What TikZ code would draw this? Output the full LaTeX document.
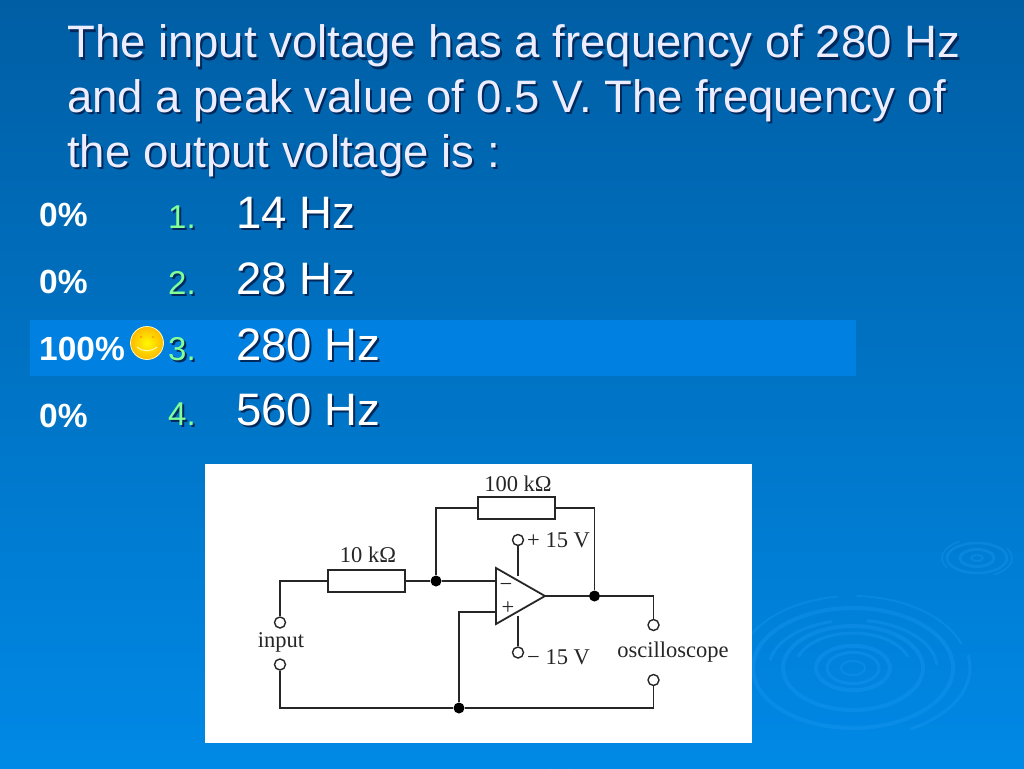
\documentclass[tikz,border=0pt]{standalone}
\usepackage{fontspec}
\setmainfont{Liberation Sans}
\newfontfamily\circuitfont{Liberation Serif}
\usetikzlibrary{calc,shapes.geometric}
\definecolor{slidetop}{RGB}{0,94,164}
\definecolor{slidemid}{RGB}{0,112,190}
\definecolor{slidelow}{RGB}{0,137,230}
\definecolor{rowblue}{RGB}{0,128,224}
\definecolor{rippleblue}{RGB}{30,155,245}
\definecolor{numgreen}{RGB}{130,255,150}
\definecolor{shadowblue}{RGB}{0,40,90}
\newcommand{\shtext}[1]{\leavevmode\rlap{\kern2pt\raisebox{-2pt}{\color{shadowblue}#1}}#1}
\tikzstyle{title}=[anchor=base west,inner sep=0pt,text=white!93!blue,font=\fontsize{45.5}{54}\selectfont]
\tikzstyle{answer}=[anchor=base west,inner sep=0pt,text=white,font=\fontsize{45.5}{50}\selectfont]
\tikzstyle{number}=[anchor=base west,inner sep=0pt,text=numgreen,font=\fontsize{33}{36}\selectfont]
\tikzstyle{percent}=[anchor=base west,inner sep=0pt,text=white,font=\fontsize{33.5}{36}\selectfont\bfseries]
\tikzstyle{wire}=[line width=1.7pt,black!85]
\tikzstyle{resistor}=[rectangle,draw=black!85,line width=2pt,fill=white,minimum width=77pt,minimum height=22pt,inner sep=0pt]
\tikzstyle{terminal}=[circle,draw=black!85,line width=1.4pt,fill=white,minimum size=11pt,inner sep=0pt]
\tikzstyle{junction}=[circle,fill=black,minimum size=11pt,inner sep=0pt]
\tikzstyle{label}=[anchor=base,inner sep=0pt,text=black!85,font=\circuitfont\fontsize{22.5}{24}\selectfont]
\tikzstyle{ripple}=[rippleblue,opacity=0.32,line cap=round]
\begin{document}
\begin{tikzpicture}[x=1pt,y=-1pt]
    \useasboundingbox (0,0) rectangle (1024,768);
    % background
    \shade[top color=slidetop,middle color=slidemid,bottom color=slidelow,shading angle=0] (0,0) rectangle (1024,768);
    % ripples, small one
    \foreach \r/\w in {6/2,17/3,30/2.5}
        \draw[ripple,line width=\w pt] (977,558) ellipse ({\r} and {\r*0.5});
    \draw[ripple,line width=1.5pt] (977,558) ++(-30:35 and 19) arc[start angle=-30,end angle=60,x radius=35,y radius=19];
    \draw[ripple,line width=1.5pt] (977,558) ++(150:35 and 19) arc[start angle=150,end angle=240,x radius=35,y radius=19];
    % ripples, big one
    \foreach \r/\w in {12/2,26/3,37/4,70/4,100/4}
        \draw[ripple,line width=\w pt] (853,668) ellipse ({\r} and {\r*0.6});
    \draw[ripple,line width=3pt] (853,668) ++(200:58 and 35) arc[start angle=200,end angle=340,x radius=58,y radius=35];
    \draw[ripple,line width=3pt] (853,668) ++(190:84 and 48) arc[start angle=190,end angle=255,x radius=84,y radius=48];
    \draw[ripple,line width=3pt] (853,668) ++(280:84 and 48) arc[start angle=280,end angle=355,x radius=84,y radius=48];
    \draw[ripple,line width=2pt] (853,668) ++(185:115 and 72) arc[start angle=185,end angle=262,x radius=115,y radius=72];
    \draw[ripple,line width=2pt] (853,668) ++(272:115 and 72) arc[start angle=272,end angle=340,x radius=115,y radius=72];
    \draw[ripple,line width=3pt] (853,668) ++(-10:117 and 70) arc[start angle=-10,end angle=60,x radius=117,y radius=70];
    \draw[ripple,line width=2pt] (570,768) arc[start angle=0,end angle=50,x radius=30,y radius=25];
    \draw[ripple,line width=2pt] (550,768) arc[start angle=0,end angle=50,x radius=24,y radius=20];
    % question
    \node[title] (line1) at (67,58) {\shtext{The input voltage has a frequency of 280 Hz}};
    \node[title] (line2) at (67,112) {\shtext{and a peak value of 0.5 V. The frequency of}};
    \node[title] (line3) at (67,167) {\shtext{the output voltage is :}};
    % answers
    \node[fill=rowblue,minimum width=826pt,minimum height=56pt,inner sep=0pt] (row) at (443,348) {};
    \node[percent] (p1) at (39,226) {0\%};
    \node[percent] (p2) at (39,293) {0\%};
    \node[percent] (p3) at (39,360) {100\%};
    \node[percent] (p4) at (39,427) {0\%};
    \node[number] (n1) at (168,228) {\shtext{1.}};
    \node[number] (n2) at (168,294) {\shtext{2.}};
    \node[number] (n3) at (168,360) {\shtext{3.}};
    \node[number] (n4) at (168,425) {\shtext{4.}};
    \node[answer] (a1) at (236,228) {\shtext{14 Hz}};
    \node[answer] (a2) at (236,294) {\shtext{28 Hz}};
    \node[answer] (a3) at (236,360) {\shtext{280 Hz}};
    \node[answer] (a4) at (236,425) {\shtext{560 Hz}};
    % smiley
    \node[circle,draw=white!70!yellow,line width=0.8pt,inner color=yellow!95!orange,outer color=yellow!45!orange,minimum size=33pt,inner sep=0pt] (smiley) at (147,343) {};
    \fill[orange!70!yellow] ($(smiley)+(-6,-6)$) circle (1.3) ($(smiley)+(6,-6)$) circle (1.3);
    \draw[white!70!yellow,line width=1pt] ($(smiley)+(-10,4)$) .. controls ($(smiley)+(-4,9)$) and ($(smiley)+(4,9)$) .. ($(smiley)+(10,4)$);
    % circuit
    \node[fill=white,minimum width=547pt,minimum height=279pt,inner sep=0pt] (paper) at (478.5,603.5) {};
    \node[resistor] (rin) at (366.5,581) {};
    \node[resistor] (rfb) at (516.5,508) {};
    \node[junction] (jminus) at (436,581) {};
    \node[junction] (jout) at (594.5,596) {};
    \node[junction] (jgnd) at (459,708) {};
    \coordinate (optop) at (496,568);
    \coordinate (opbot) at (496,624);
    \coordinate (optip) at (545,596);
    \coordinate (opminus) at (496,581);
    \coordinate (opplus) at (496,612);
    \node[terminal] (inup) at (280,622.5) {};
    \node[terminal] (indown) at (280,664.5) {};
    \node[terminal] (outup) at (653.5,625) {};
    \node[terminal] (outdown) at (653.5,680) {};
    \node[terminal] (vplus) at (518,540) {};
    \node[terminal] (vminus) at (518,652.5) {};
    \coordinate (vplusin) at (518,576);
    \coordinate (vminusin) at (518,616);
    \draw[wire] (inup) |- (rin.west);
    \draw[wire] (rin.east) -- (jminus) -- (opminus);
    \draw[wire] (jminus) |- (rfb.west);
    \draw[wire] (rfb.east) -| (jout);
    \draw[wire] (optip) -- (jout);
    \draw[wire] (jout) -| (outup);
    \draw[wire] (indown) |- (jgnd);
    \draw[wire] (jgnd) -| (outdown);
    \draw[wire] (jgnd) |- (opplus);
    \draw[wire] (vplus) -- (vplusin);
    \draw[wire] (vminus) -- (vminusin);
    \draw[black!85,line width=1.8pt,line join=miter] (optop) -- (optip) -- (opbot) -- cycle;
    \node[label] (minus) at (506,591) {\textminus};
    \node[label] (plus) at (508,614) {+};
    \node[label] (lrfb) at (518,491) {100 kΩ};
    \node[label] (lrin) at (368,562) {10 kΩ};
    \node[label,anchor=base west] (lplus) at (527,547) {+ 15 V};
    \node[label,anchor=base west] (lminus) at (527,664) {\textminus\ 15 V};
    \node[label] (linput) at (281,647) {input};
    \node[label] (lscope) at (673,657) {oscilloscope};
\end{tikzpicture}
\end{document}
